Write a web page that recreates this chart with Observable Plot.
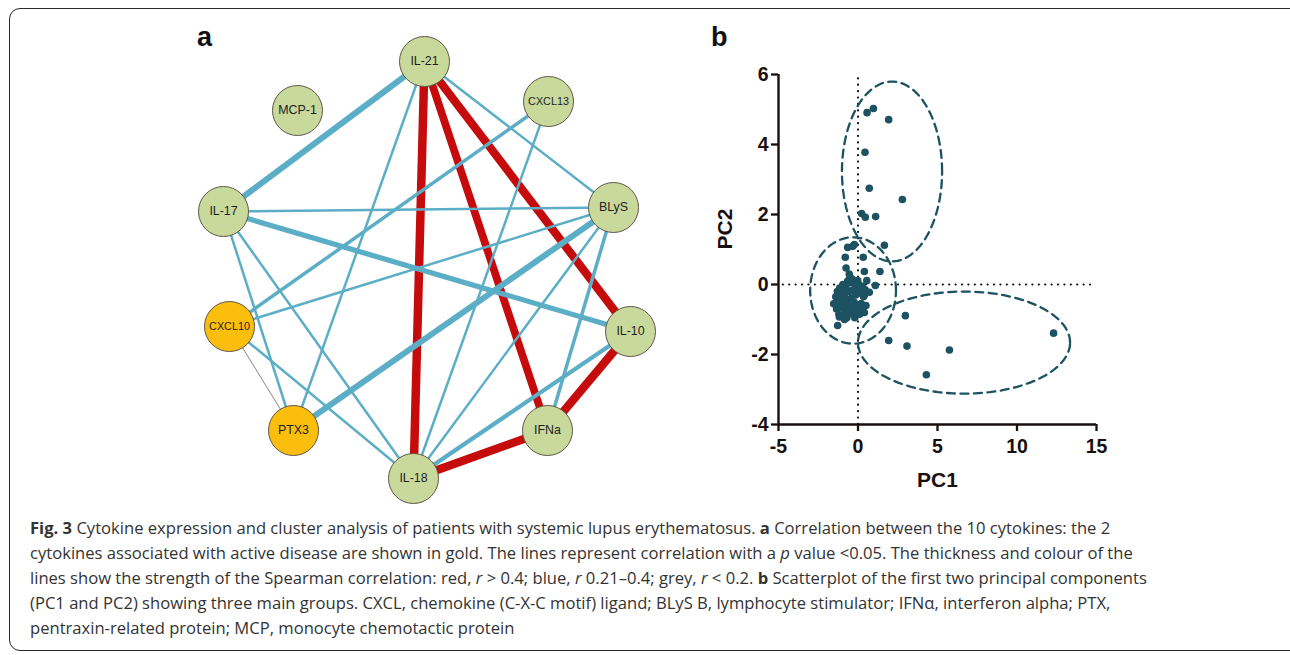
<!DOCTYPE html>
<html>
<head>
<meta charset="utf-8">
<script src="https://cdn.jsdelivr.net/npm/d3@7"></script>
<script src="https://cdn.jsdelivr.net/npm/@observablehq/plot@0.6"></script>
<style>
  html, body { margin: 0; padding: 0; background: #fff; }
  body { width: 1290px; height: 655px; overflow: hidden; position: relative; font-family: "Liberation Sans", Arial, sans-serif; }
  .frame { position: absolute; left: 9px; top: 8px; width: 1320px; height: 643px; border: 1.5px solid #2a2a2a; border-radius: 11px; box-sizing: border-box; }
  .panel { position: absolute; }
  .plbl { position: absolute; font-family: "Liberation Sans", Arial, sans-serif; font-weight: bold; font-size: 27px; line-height: 1; color: #111; }
  .caption { position: absolute; left: 30px; top: 515px; font-family: "Open Sans", sans-serif; font-size: 16.6px; line-height: 25px; color: #333; white-space: nowrap; }
  .caption div { height: 25px; }
</style>
</head>
<body>
<div class="frame"></div>
<div id="a" class="panel" style="left:180px; top:20px;"></div>
<div id="b" class="panel" style="left:700px; top:40px;"></div>
<div class="plbl" style="left:197px; top:24px;">a</div>
<div class="plbl" style="left:711px; top:24px;">b</div>
<div class="caption">
  <div><b>Fig. 3</b> Cytokine expression and cluster analysis of patients with systemic lupus erythematosus. <b>a</b> Correlation between the 10 cytokines: the 2</div>
  <div>cytokines associated with active disease are shown in gold. The lines represent correlation with a <i>p</i> value &lt;0.05. The thickness and colour of the</div>
  <div>lines show the strength of the Spearman correlation: red, <i>r</i> &gt; 0.4; blue, <i>r</i> 0.21–0.4; grey, <i>r</i> &lt; 0.2. <b>b</b> Scatterplot of the first two principal components</div>
  <div>(PC1 and PC2) showing three main groups. CXCL, chemokine (C-X-C motif) ligand; BLyS B, lymphocyte stimulator; IFNα, interferon alpha; PTX,</div>
  <div>pentraxin-related protein; MCP, monocyte chemotactic protein</div>
</div>
<script>
// ---------- Panel a: cytokine correlation network ----------
const nodes = ["IL-21", "MCP-1", "CXCL13", "IL-17", "BLyS", "CXCL10", "IL-10", "PTX3", "IFNa", "IL-18"];
// layout coordinates of the network drawing (layout units)
const nodeX = [244, 117, 368, 43, 433, 49, 450, 113, 367, 233];
const nodeY = [41, 90, 81, 191, 187, 306, 311, 410, 410, 458];
const activeNodes = ["CXCL10", "PTX3"];

const edgeSource = ["IL-21", "IL-21", "IL-21", "IL-10", "IFNa",
                    "IL-21", "IL-17", "BLyS", "IL-10", "BLyS", "CXCL13",
                    "IL-21", "IL-21", "IL-17", "IL-17", "IL-17", "CXCL13", "CXCL10", "CXCL10", "BLyS",
                    "CXCL10"];
const edgeTarget = ["IL-18", "IFNa", "IL-10", "IFNa", "IL-18",
                    "IL-17", "IL-10", "PTX3", "IL-18", "IFNa", "CXCL10",
                    "BLyS", "PTX3", "BLyS", "PTX3", "IL-18", "IL-18", "BLyS", "IL-18", "IL-18",
                    "PTX3"];
const edgeR = [0.46, 0.43, 0.45, 0.45, 0.45,
               0.36, 0.33, 0.36, 0.29, 0.26, 0.26,
               0.22, 0.22, 0.22, 0.22, 0.22, 0.22, 0.22, 0.22, 0.22,
               0.16];

const idx = Object.fromEntries(nodes.map((n, i) => [n, i]));
const nodeTable = nodes.map((n, i) => ({name: n, x: nodeX[i], y: nodeY[i], active: activeNodes.includes(n)}));
const edgeTable = edgeSource.map((s, i) => ({s, t: edgeTarget[i], r: edgeR[i]}));
const edgeColor = r => r > 0.4 ? "#c50b0b" : r >= 0.2 ? "#5caec7" : "#8c8282";
const edgeWidth = r => (r - 0.12) * 25;
const byStrength = (a, b) => (b.r > 0.4) - (a.r > 0.4);

const plotA = Plot.plot({
  width: 500, height: 490,
  margin: 0,
  x: {domain: [0, 500], range: [0, 500], axis: null},
  y: {domain: [0, 490], range: [0, 490], axis: null},
  color: {type: "identity"},
  style: {fontFamily: "'Liberation Sans', Arial, sans-serif", overflow: "visible", background: "transparent"},
  marks: [
    Plot.link(edgeTable.slice().sort(byStrength), {
      x1: d => nodeX[idx[d.s]], y1: d => nodeY[idx[d.s]],
      x2: d => nodeX[idx[d.t]], y2: d => nodeY[idx[d.t]],
      stroke: d => edgeColor(d.r),
      strokeWidth: d => edgeWidth(d.r)
    }),
    Plot.dot(nodeTable, {x: "x", y: "y", r: 25, fill: d => d.active ? "#fcbe0c" : "#c9d99c", stroke: "#5e5646", strokeWidth: 1}),
    Plot.text(nodeTable.filter(d => d.name.length <= 5), {x: "x", y: "y", text: "name", fill: "#1e1e1e", fontSize: 12.4}),
    Plot.text(nodeTable.filter(d => d.name.length > 5), {x: "x", y: "y", text: "name", fill: "#1e1e1e", fontSize: 10.8})
  ]
});
document.getElementById("a").appendChild(plotA);

// ---------- Panel b: PCA scatterplot ----------
const pc1 = [
  0.57, 0.97, 1.93, 0.44, 0.71, 2.79, 0.23, 0.46, 1.11, 1.66, -0.65, -0.23, -0.33, -0.8, 0.33,
  -0.75, 0.40, 1.38, 0.55, 1.09, -0.50, -0.02, 0.71, 0.40, 0.19,
  2.98, 1.93, 3.08, 5.75, 12.3, 4.3,
  -1.45, -1.4, -1.35, -1.3, -1.25, -1.2, -1.15, -1.1, -1.05, -1.0, -1.0, -0.95, -0.9, -0.85, -0.8,
  -0.75, -0.7, -0.7, -0.65, -0.6, -0.55, -0.5, -0.45, -0.45, -0.4, -0.35, -0.3, -0.3, -0.25, -0.2,
  -0.15, -0.1, -0.05, 0.0, 0.05, 0.1, 0.15, 0.2, 0.3, 0.35, 0.4, 0.5, 0.45, -0.55, -0.85, -1.17,
  -1.28, -0.2, 0.25, -1.53, -0.65, -0.1
];
const pc2 = [
  4.91, 5.03, 4.71, 3.78, 2.75, 2.43, 2.03, 1.92, 1.94, 1.12, 1.06, 1.14, 1.09, 0.78, 0.78,
  0.47, 0.37, 0.37, 0.11, -0.03, 0.21, 0.11, -0.22, -0.30, -0.55,
  -0.89, -1.60, -1.76, -1.87, -1.39, -2.58,
  -0.55, -0.35, -0.70, -0.20, -0.50, -0.85, -0.10, -0.40, -0.65, -0.25, -0.90, 0.00, -0.55, -0.30, -0.75,
  -0.10, -0.45, -0.95, 0.10, -0.60, -0.20, -0.80, 0.05, -0.40, -0.65, 0.15, -0.15, -0.85, -0.50, 0.05,
  -0.30, -0.75, -0.10, -0.60, 0.00, -0.85, -0.25, -0.55, -0.75, -0.35, -0.80, -0.60, -0.15, 0.30, -1.00, -0.93,
  -1.17, -0.95, -0.05, -0.55, -0.79, -0.79
];
// group outlines: centre and semi-axes in PC units
const groupCx = [2.14, -0.31, 6.67];
const groupCy = [3.23, -0.17, -1.66];
const groupRx = [3.15, 2.70, 6.67];
const groupRy = [2.57, 1.52, 1.46];
const xTicks = [-5, 0, 5, 10, 15];
const yTicks = [-4, -2, 0, 2, 4, 6];

const points = pc1.map((x, i) => ({x, y: pc2[i]}));
const outline = groupCx.flatMap((cx, g) => d3.range(0, 361, 4).map(a => ({
  g, x: cx + groupRx[g] * Math.cos(a * Math.PI / 180), y: groupCy[g] + groupRy[g] * Math.sin(a * Math.PI / 180)
})));
const teal = "#1c5262";
const ink = "#1a0f0f";
const dotted = {stroke: "#111", strokeWidth: 2.2, strokeDasharray: "0.1,6.3", strokeLinecap: "round"};

const plotB = Plot.plot({
  width: 430, height: 460,
  marginLeft: 78, marginRight: 34, marginTop: 34, marginBottom: 76,
  x: {domain: [-5, 15]},
  y: {domain: [-4, 6]},
  style: {fontFamily: "'Liberation Sans', Arial, sans-serif", overflow: "visible", background: "transparent", color: ink},
  marks: [
    Plot.ruleX([0], {y1: -4, y2: 6, ...dotted}),
    Plot.ruleY([0], {x1: -4.7, x2: 15, ...dotted}),
    Plot.line(outline, {x: "x", y: "y", z: "g", stroke: teal, strokeWidth: 2.3, strokeDasharray: "8,5.5"}),
    Plot.dot(points, {x: "x", y: "y", r: 3.8, fill: teal}),
    Plot.axisX({ticks: xTicks, tickFormat: d => String(d), tickSize: 7, tickPadding: 8, strokeWidth: 2.3, fontSize: 19.5, fontWeight: "bold", label: null, fill: ink}),
    Plot.axisY({ticks: yTicks, tickFormat: d => String(d), tickSize: 7, tickPadding: 3, strokeWidth: 2.3, fontSize: 19.5, fontWeight: "bold", label: null, fill: ink}),
    Plot.ruleX([-5], {stroke: ink, strokeWidth: 2.4}),
    Plot.ruleY([-4], {stroke: ink, strokeWidth: 2.4}),
    Plot.text(["PC1"], {frameAnchor: "bottom", dy: 62, fontSize: 21, fontWeight: "bold", fill: ink}),
    Plot.text(["PC2"], {frameAnchor: "left", dx: -53, rotate: -90, fontSize: 21, fontWeight: "bold", fill: ink})
  ]
});
document.getElementById("b").appendChild(plotB);
</script>
</body>
</html>
